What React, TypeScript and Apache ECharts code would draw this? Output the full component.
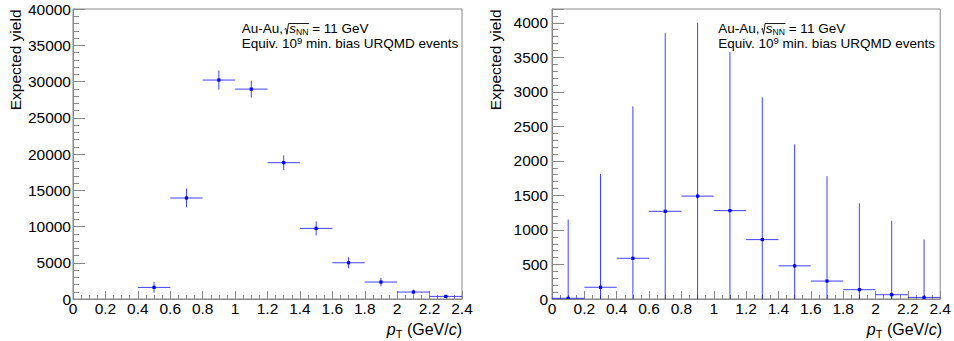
import React, { useEffect, useRef } from "react";
import * as echarts from "echarts";

// ---- data ----
const binCenters = [0.1, 0.3, 0.5, 0.7, 0.9, 1.1, 1.3, 1.5, 1.7, 1.9, 2.1, 2.3];
const binHalfWidth = 0.1;
const leftYield: (number | null)[] = [null, null, 1600, 13930, 30200, 28950, 18800, 9740, 5000, 2340, 960, 360];
const leftErr: (number | null)[] = [null, null, 740, 1290, 1330, 1170, 1010, 970, 760, 575, 330, 220];
const rightYield = [10, 170, 590, 1270, 1490, 1280, 860, 480, 260, 135, 62, 23];
const rightErr = [1140, 1640, 2200, 2580, 2510, 2300, 2060, 1760, 1520, 1250, 1070, 840];
const xTicks = { min: 0, max: 2.4, interval: 0.2 };
const leftYTicks = { min: 0, max: 40000, interval: 5000 };
const rightYTicks = { min: 0, max: 4200, interval: 500 };
const yTitle = "Expected yield";
const annLine1 = ["Au-Au, ", "s", "NN", " = 11 GeV"];
const annLine2 = ["Equiv. 10", "9", " min. bias URQMD events"];

const FONT = '"Liberation Sans", Arial, Helvetica, sans-serif';
const FRAME = "#888888";
const BLUE = "#0000ff";

const grids = [
  { left: 73, top: 9, width: 389, height: 290 },
  { left: 552, top: 9, width: 390, height: 290 },
];

const nb = (s: string) => s.replace(/ /g, "\u00a0");

let ctx: CanvasRenderingContext2D | null = null;
function measure(text: string, size: number, italic?: boolean) {
  if (!ctx) ctx = document.createElement("canvas").getContext("2d");
  ctx!.font = `${italic ? "italic " : ""}${size}px ${FONT}`;
  return ctx!.measureText(nb(text)).width;
}

type Run = { t: string; s: number; it?: boolean; dy?: number };
function textRuns(x0: number, baseline: number, runs: Run[]) {
  const els: any[] = [];
  let x = x0;
  for (const r of runs) {
    const yb = baseline + (r.dy || 0);
    els.push({
      type: "text",
      x,
      y: yb - 0.3465 * r.s,
      silent: true,
      style: {
        text: nb(r.t),
        fill: "#000",
        font: `${r.it ? "italic " : ""}${r.s}px ${FONT}`,
        align: "left",
        verticalAlign: "middle",
      },
    });
    x += measure(r.t, r.s, r.it);
  }
  return { els, end: x };
}

function annotation(x0: number) {
  const S = 13.5;
  const b1 = 33.3;
  const b2 = 47.7;
  const els: any[] = [];
  // line 1 with radical
  const p1 = textRuns(x0, b1, [{ t: annLine1[0], s: S }]);
  els.push(...p1.els);
  const xr = p1.end - 2;
  const radW = 4.5;
  const p2 = textRuns(xr + radW, b1, [
    { t: annLine1[1], s: S, it: true },
    { t: annLine1[2], s: 8.6, dy: 1.2 },
  ]);
  els.push(...p2.els);
  const topY = b1 - 9.8;
  els.push({
    type: "polyline",
    silent: true,
    shape: {
      points: [
        [xr, b1 - 4],
        [xr + 1.2, b1 - 4.8],
        [xr + 2.2, b1 + 1],
        [xr + 3.8, topY],
        [p2.end + 0.5, topY],
      ],
    },
    style: { stroke: "#000", lineWidth: 0.9, fill: null },
  });
  const p3 = textRuns(p2.end, b1, [{ t: annLine1[3], s: S }]);
  els.push(...p3.els);
  // line 2
  const q = textRuns(x0, b2, [
    { t: annLine2[0], s: S },
    { t: annLine2[1], s: 9.5, dy: -4.4 },
    { t: annLine2[2], s: S },
  ]);
  els.push(...q.els);
  return els;
}

function xTitle(right: number) {
  const runs: Run[] = [
    { t: "p", s: 16, it: true },
    { t: "T", s: 11, dy: 3 },
    { t: " (GeV/", s: 16 },
    { t: "c", s: 16, it: true },
    { t: ")", s: 16 },
  ];
  let w = 0;
  for (const r of runs) w += measure(r.t, r.s, r.it);
  return textRuns(right - w, 335, runs).els;
}

function yTitleEl(cx: number) {
  return {
    type: "text",
    x: cx,
    y: 9.5,
    rotation: Math.PI / 2,
    silent: true,
    style: {
      text: yTitle,
      fill: "#000",
      font: `15.5px ${FONT}`,
      align: "right",
      verticalAlign: "middle",
    },
  };
}

function errRender(params: any, api: any) {
  const x = api.value(0);
  const y = api.value(1);
  const e = api.value(2);
  const l = api.coord([x - binHalfWidth, y]);
  const r = api.coord([x + binHalfWidth, y]);
  const c = api.coord([x, y]);
  const t = api.coord([x, y + e]);
  const b = api.coord([x, Math.max(0, y - e)]);
  const ls = { stroke: BLUE, lineWidth: 1, opacity: 0.75 };
  return {
    type: "group",
    children: [
      { type: "line", shape: { x1: l[0], y1: l[1], x2: r[0], y2: r[1] }, style: ls },
      { type: "line", shape: { x1: t[0], y1: t[1], x2: b[0], y2: b[1] }, style: ls },
      { type: "rect", shape: { x: c[0] - 1.6, y: c[1] - 1.6, width: 3.2, height: 3.2 }, style: { fill: BLUE } },
    ],
  };
}

function makeData(ys: (number | null)[], es: (number | null)[]) {
  const out: number[][] = [];
  binCenters.forEach((x, i) => {
    const y = ys[i];
    const e = es[i];
    if (y != null && e != null) out.push([x, y, e]);
  });
  return out;
}

export default function App() {
  const ref = useRef<HTMLDivElement>(null);
  useEffect(() => {
    if (!ref.current) return;
    const chart = echarts.init(ref.current, undefined, { renderer: "svg" });
    const xAxis = [0, 1].map((i) => ({
      type: "value",
      gridIndex: i,
      min: xTicks.min,
      max: xTicks.max,
      interval: xTicks.interval,
      axisLine: { show: true, lineStyle: { color: FRAME, width: 1 } },
      axisTick: { show: true, inside: true, length: 8, lineStyle: { color: FRAME } },
      minorTick: { show: true, splitNumber: 4, length: 4, lineStyle: { color: FRAME } },
      splitLine: { show: false },
      axisLabel: {
        color: "#000",
        fontSize: 15.5,
        fontFamily: FONT,
        margin: 1,
        hideOverlap: false,
        showMinLabel: true,
        showMaxLabel: true,
        formatter: (v: number) => String(+v.toFixed(1)),
      },
    }));
    const yAxisBase = (i: number, t: { min: number; max: number; interval: number }) => ({
      type: "value",
      gridIndex: i,
      min: t.min,
      max: t.max,
      interval: t.interval,
      axisLine: { show: true, lineStyle: { color: FRAME, width: 1 } },
      axisTick: { show: true, inside: true, length: 12, lineStyle: { color: FRAME } },
      minorTick: { show: true, splitNumber: 5, length: 6, lineStyle: { color: FRAME } },
      splitLine: { show: false },
      axisLabel: {
        color: "#000",
        fontSize: 15.5,
        fontFamily: FONT,
        margin: i === 0 ? 2 : 4,
        hideOverlap: false,
        formatter: (v: number) => (v % t.interval === 0 ? String(v) : ""),
      },
    });
    chart.setOption({
      animation: false,
      grid: grids.map((g) => ({
        ...g,
        show: true,
        borderColor: FRAME,
        borderWidth: 1,
        backgroundColor: "transparent",
        containLabel: false,
      })),
      xAxis,
      yAxis: [yAxisBase(0, leftYTicks), yAxisBase(1, rightYTicks)],
      series: [
        {
          type: "custom",
          xAxisIndex: 0,
          yAxisIndex: 0,
          clip: true,
          renderItem: errRender,
          encode: { x: 0, y: 1 },
          data: makeData(leftYield, leftErr),
        },
        {
          type: "custom",
          xAxisIndex: 1,
          yAxisIndex: 1,
          clip: true,
          renderItem: errRender,
          encode: { x: 0, y: 1 },
          data: makeData(rightYield, rightErr),
        },
      ],
      graphic: [
        ...annotation(241.7),
        ...annotation(718.3),
        ...xTitle(462),
        ...xTitle(942),
        yTitleEl(15),
        yTitleEl(495),
      ],
    });
    return () => chart.dispose();
  }, []);
  return (
    <div
      ref={ref}
      style={{ position: "absolute", left: 0, top: 0, width: 954, height: 341, background: "#fff" }}
    />
  );
}
